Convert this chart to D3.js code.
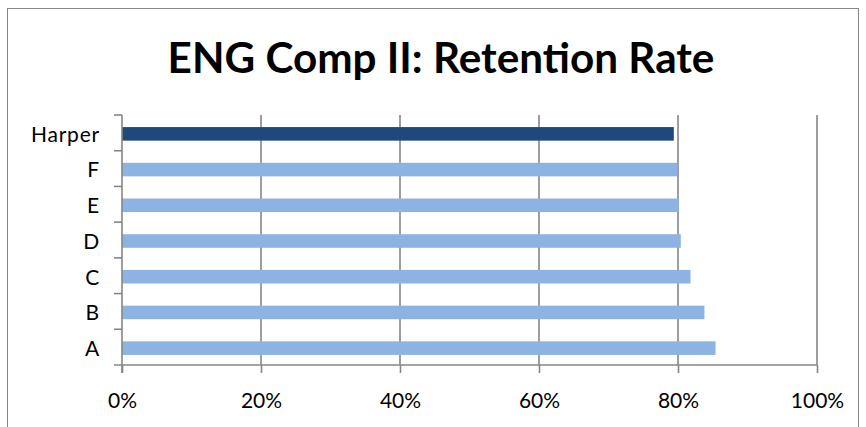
<!DOCTYPE html>
<html>
<head>
<meta charset="utf-8">
<script src="https://cdn.jsdelivr.net/npm/d3@7"></script>
<style>
  html, body { margin: 0; padding: 0; background: #fff; }
  svg { display: block; }
</style>
</head>
<body>
<div class="chart"></div>
<script>
// data
const categories = ["Harper", "F", "E", "D", "C", "B", "A"];
const rates = [0.794, 0.799, 0.801, 0.804, 0.818, 0.838, 0.854];
const xTicks = [0, 0.2, 0.4, 0.6, 0.8, 1.0];
const titleText = "ENG Comp II: Retention Rate";

const width = 866;
const height = 427;
const plot = { left: 122, right: 817, top: 115, bottom: 365 };
const gray = "#868686";

const svg = d3.select(".chart")
    .append("svg")
    .attr("width", width)
    .attr("height", height);

// chart area border
svg.append("rect")
    .attr("x", 7.5).attr("y", 8.5)
    .attr("width", 851).attr("height", 440)
    .attr("fill", "none")
    .attr("stroke", gray)
    .attr("stroke-width", 1);

// title, sized so its width matches
const title = svg.append("text")
    .attr("x", 441)
    .attr("y", 73)
    .attr("text-anchor", "middle")
    .style("font-family", "Lato, sans-serif")
    .style("font-weight", "bold")
    .style("font-size", "40px")
    .style("fill", "#000")
    .text(titleText);
const tw = title.node().getComputedTextLength();
title.style("font-size", (40 * 547 / tw) + "px");

const xScale = d3.scaleLinear()
    .domain([0, 1])
    .range([plot.left, plot.right]);

const yScale = d3.scaleBand()
    .domain(categories)
    .range([plot.top, plot.bottom])
    .paddingInner(0.62)
    .paddingOuter(0.31);

const yBand = d3.scaleBand()
    .domain(categories)
    .range([plot.top, plot.bottom]);

// vertical gridlines
svg.append("g")
    .selectAll("line")
    .data(xTicks.slice(1))
    .join("line")
    .attr("x1", d => xScale(d))
    .attr("x2", d => xScale(d))
    .attr("y1", plot.top)
    .attr("y2", plot.bottom)
    .attr("stroke", gray)
    .attr("stroke-width", 1.6);

// bars
svg.append("g")
    .selectAll("rect")
    .data(categories.map((c, i) => ({ cat: c, v: rates[i] })))
    .join("rect")
    .attr("x", xScale(0))
    .attr("y", d => yScale(d.cat) + 1)
    .attr("width", d => xScale(d.v) - xScale(0))
    .attr("height", yScale.bandwidth())
    .attr("fill", d => d.cat === "Harper" ? "#1F497D" : "#8DB3E2");

// x axis
const xAxis = d3.axisBottom(xScale)
    .tickValues(xTicks)
    .tickSize(8)
    .tickPadding(20)
    .tickFormat(d3.format(".0%"));

const xg = svg.append("g")
    .attr("transform", `translate(0,${plot.bottom})`)
    .call(xAxis);
xg.select(".domain").attr("stroke", gray).attr("stroke-width", 1.6)
    .attr("d", `M${plot.left - 8},0H${plot.right}`);
xg.selectAll(".tick line").attr("stroke", gray).attr("stroke-width", 1.6);
xg.selectAll(".tick text")
    .style("font-family", "Lato, sans-serif")
    .style("font-size", "21px")
    .style("fill", "#000");

// y axis: ticks on band boundaries
const yg = svg.append("g");
yg.append("line")
    .attr("x1", plot.left).attr("x2", plot.left)
    .attr("y1", plot.top).attr("y2", plot.bottom + 8)
    .attr("stroke", gray).attr("stroke-width", 1.6);
yg.selectAll("line.tk")
    .data(categories)
    .join("line")
    .attr("class", "tk")
    .attr("x1", plot.left - 8).attr("x2", plot.left)
    .attr("y1", d => yBand(d))
    .attr("y2", d => yBand(d))
    .attr("stroke", gray).attr("stroke-width", 1.6);
yg.selectAll("text")
    .data(categories)
    .join("text")
    .attr("x", plot.left - 22)
    .attr("y", d => yBand(d) + yBand.bandwidth() / 2 + 1.5)
    .attr("dy", "0.35em")
    .attr("text-anchor", "end")
    .style("font-family", "Lato, sans-serif")
    .style("font-size", "21px")
    .style("letter-spacing", "0.8px")
    .style("fill", "#000")
    .text(d => d);
</script>
</body>
</html>
